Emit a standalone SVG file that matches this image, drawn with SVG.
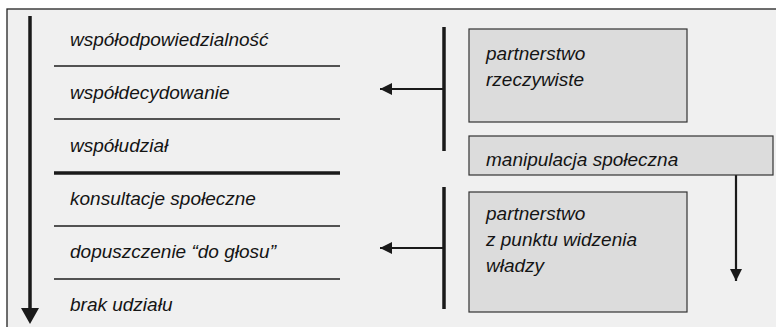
<svg xmlns="http://www.w3.org/2000/svg" width="776" height="327" viewBox="0 0 776 327">
<defs>
<style>
text{font-family:"Liberation Sans",Arial,sans-serif;font-style:italic;font-size:19px;fill:#141414}
.box{fill:#dcdcdc;stroke:#333;stroke-width:1.2}
.sep{stroke:#1e1e1e;stroke-width:1.3}
.bar{stroke:#1a1a1a;stroke-width:3.5}
.conn{stroke:#1a1a1a;stroke-width:2.2;fill:none}
</style>
<marker id="ah" viewBox="0 0 10 10" refX="10" refY="5" markerWidth="13" markerHeight="12" markerUnits="userSpaceOnUse" orient="auto">
<path d="M0,0 L10,5 L0,10 z" fill="#1a1a1a"/>
</marker>
</defs>
<rect x="0" y="0" width="776" height="327" fill="#ffffff"/>
<rect x="7" y="9" width="775" height="330" fill="#f0f0f0" stroke="#222" stroke-width="1.3"/>

<g id="connectors">
<line class="bar" x1="30" y1="16" x2="30" y2="310"/>
<path d="M21,308 L39,308 L30,324 z" fill="#1a1a1a"/>
<line class="bar" x1="444" y1="27" x2="444" y2="151"/>
<line class="bar" x1="444" y1="187" x2="444" y2="309"/>
<line class="conn" x1="444" y1="89" x2="380" y2="89" marker-end="url(#ah)"/>
<line class="conn" x1="444" y1="248" x2="380" y2="248" marker-end="url(#ah)"/>
<line class="conn" x1="736" y1="175" x2="736" y2="281" marker-end="url(#ah)"/>
</g>

<g id="scale">
<line class="sep" x1="54" y1="66" x2="340" y2="66"/>
<line class="sep" x1="54" y1="119" x2="340" y2="119"/>
<line x1="54" y1="173" x2="340" y2="173" stroke="#1a1a1a" stroke-width="3.5"/>
<line class="sep" x1="54" y1="226" x2="340" y2="226"/>
<line class="sep" x1="54" y1="279" x2="340" y2="279"/>
</g>

<g id="level-wspolodpowiedzialnosc"><text x="70" y="46">współodpowiedzialność</text></g>
<g id="level-wspoldecydowanie"><text x="70" y="99">współdecydowanie</text></g>
<g id="level-wspoludzial"><text x="70" y="152">współudział</text></g>
<g id="level-konsultacje"><text x="70" y="205">konsultacje społeczne</text></g>
<g id="level-dopuszczenie"><text x="70" y="258">dopuszczenie “do głosu”</text></g>
<g id="level-brak"><text x="70" y="311">brak udziału</text></g>

<g id="box-partnerstwo-rzeczywiste">
<rect class="box" x="469" y="29" width="218" height="93"/>
<text x="486" y="60">partnerstwo</text>
<text x="486" y="86">rzeczywiste</text>
</g>
<g id="box-manipulacja">
<rect class="box" x="469" y="136" width="304" height="39"/>
<text x="486" y="166">manipulacja społeczna</text>
</g>
<g id="box-partnerstwo-wladzy">
<rect class="box" x="469" y="192" width="218" height="120"/>
<text x="486" y="220">partnerstwo</text>
<text x="486" y="246">z punktu widzenia</text>
<text x="486" y="272">władzy</text>
</g>
</svg>
